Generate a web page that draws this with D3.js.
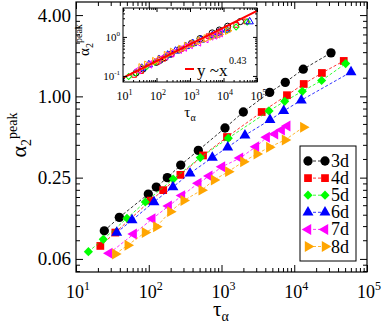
<!DOCTYPE html>
<html>
<head>
<meta charset="utf-8">
<script src="https://cdn.jsdelivr.net/npm/d3@7"></script>
<style>
body { margin: 0; background: #fff; }
svg { display: block; font-family: "Liberation Serif", "Times New Roman", serif; }
</style>
</head>
<body>
<script>
// series: tau_alpha vs alpha_2 peak
var dims = ["3d", "4d", "5d", "6d", "7d", "8d"];
var colors = ["#000000", "#ff0000", "#00ff00", "#0000ff", "#ff00ff", "#ffa500"];
var shapes = ["circle", "square", "diamond", "up", "left", "right"];

var tau3 = [24.5, 39.4, 98.6, 127, 180, 275, 480, 1117, 1995, 4600, 7530, 13300, 32000];
var alpha3 = [0.101, 0.127, 0.189, 0.213, 0.25, 0.31, 0.398, 0.583, 0.766, 1.07, 1.27, 1.59, 2.10];
var tau4 = [21.6, 34.7, 106, 158, 272, 557, 1190, 3570, 7940, 13500, 24000, 47900];
var alpha4 = [0.078, 0.098, 0.169, 0.202, 0.262, 0.365, 0.50, 0.766, 1.02, 1.235, 1.49, 1.83];
var tau5 = [14.8, 23.7, 50.2, 89.7, 217, 511, 1240, 4500, 7390, 12900, 23800, 50900];
var alpha5 = [0.0707, 0.0873, 0.125, 0.165, 0.244, 0.352, 0.49, 0.78, 0.919, 1.09, 1.31, 1.75];
var tau6 = [36.3, 58.9, 118, 215, 369, 748, 1217, 2100, 4640, 7160, 12500, 60300];
var alpha6 = [0.098, 0.121, 0.165, 0.213, 0.269, 0.352, 0.42, 0.515, 0.669, 0.78, 0.936, 1.515];
var tau7 = [28.7, 62.1, 112, 188, 286, 480, 680, 1016, 1796, 2980, 4180, 5440, 6720, 8020];
var alpha7 = [0.0688, 0.0955, 0.124, 0.154, 0.184, 0.227, 0.257, 0.301, 0.349, 0.424, 0.497, 0.526, 0.563, 0.603];
var tau8 = [34.7, 51.4, 88.8, 127, 198, 302, 534, 789, 1240, 1995, 3050, 4540, 7460, 13300];
var alpha8 = [0.068, 0.079, 0.098, 0.108, 0.14, 0.169, 0.202, 0.240, 0.277, 0.328, 0.374, 0.42, 0.475, 0.59];

// inset: alpha_2 peak rescaled per dimension, plus the y ~ x^0.43 guide
var insetFactor = [1.18, 1.36, 1.37, 1.62, 2.07, 2.44];
var fitX = [10, 100000];
var fitY = [0.089, 4.67];

// ticks
var xMajor = [10, 100, 1000, 10000, 100000];
var xExp = ["1", "2", "3", "4", "5"];
var yMajor = [4, 1, 0.25, 0.0625];
var yLabels = ["4.00", "1.00", "0.25", "0.06"];
var iyMajor = [1, 0.1];
var iyExp = ["0", "-1"];

var tauSets = [tau3, tau4, tau5, tau6, tau7, tau8];
var alphaSets = [alpha3, alpha4, alpha5, alpha6, alpha7, alpha8];

var width = 382, height = 324;

var svg = d3.select("body").append("svg")
    .attr("width", width)
    .attr("height", height);

svg.append("rect").attr("width", width).attr("height", height).attr("fill", "#fff");

var x = d3.scaleLog().domain([10, 100000]).range([76, 367]);
var y = d3.scaleLog().domain([0.05, 5]).range([272, 2]);

function symbolPath(shape, size) {
    if (shape == "circle") return d3.symbol(d3.symbolCircle, size)();
    if (shape == "square" || shape == "diamond") return d3.symbol(d3.symbolSquare, size)();
    return d3.symbol(d3.symbolTriangle, size)();
}
function symbolRot(shape) {
    if (shape == "diamond") return 45;
    if (shape == "left") return -90;
    if (shape == "right") return 90;
    return 0;
}
var mainSize = {circle: 68, square: 60, diamond: 42, up: 52, left: 52, right: 52};
var insetSize = {circle: 30, square: 22, diamond: 18, up: 24, left: 24, right: 24};

// log minor ticks (2..9 per decade)
function decadeMinors(lo, hi) {
    var out = [];
    for (var e = Math.floor(Math.log10(lo)); e <= Math.ceil(Math.log10(hi)); e++) {
        for (var k = 2; k <= 9; k++) {
            var v = k * Math.pow(10, e);
            if (v > lo && v < hi) out.push(v);
        }
    }
    return out;
}
// minor ticks between majors spaced by 4x (linear in value, 7 per interval)
var yMinor = [];
[0.015625, 0.0625, 0.25, 1, 4].forEach(function(m) {
    var step = (4 * m - m) / 8;
    for (var k = 1; k <= 7; k++) {
        var v = m + k * step;
        if (v > 0.05 && v < 5) yMinor.push(v);
    }
});

function drawTicks(g, scale, values, orient, pos, len) {
    var axis;
    if (orient == "bottom") axis = d3.axisBottom(scale);
    else if (orient == "top") axis = d3.axisTop(scale);
    else if (orient == "left") axis = d3.axisLeft(scale);
    else axis = d3.axisRight(scale);
    axis.tickValues(values).tickSize(-len).tickFormat("");
    var t = (orient == "bottom" || orient == "top") ? "translate(0," + pos + ")" : "translate(" + pos + ",0)";
    var a = g.append("g").attr("transform", t).call(axis);
    a.select(".domain").remove();
    a.selectAll("line").attr("stroke", "#000").attr("stroke-width", 1);
}

// ---- main plot ----
var main = svg.append("g");

drawTicks(main, x, xMajor, "bottom", 272, 7);
drawTicks(main, x, decadeMinors(10, 100000), "bottom", 272, 4);
drawTicks(main, x, xMajor, "top", 2, 7);
drawTicks(main, x, decadeMinors(10, 100000), "top", 2, 4);
drawTicks(main, y, yMajor, "left", 76, 7);
drawTicks(main, y, yMinor, "left", 76, 4);
drawTicks(main, y, yMajor, "right", 367, 7);
drawTicks(main, y, yMinor, "right", 367, 4);

tauSets.forEach(function(taus, i) {
    var pts = taus.map(function(t, j) { return [t, alphaSets[i][j]]; });
    main.append("path")
        .datum(pts)
        .attr("fill", "none")
        .attr("stroke", colors[i])
        .attr("stroke-width", 0.8)
        .attr("stroke-dasharray", "3,2")
        .attr("d", d3.line().x(function(d) { return x(d[0]); }).y(function(d) { return y(d[1]); }));
    main.selectAll(".m" + i)
        .data(pts)
        .enter().append("path")
        .attr("class", "m" + i)
        .attr("d", symbolPath(shapes[i], mainSize[shapes[i]]))
        .attr("fill", colors[i])
        .attr("transform", function(d) {
            return "translate(" + x(d[0]) + "," + y(d[1]) + ") rotate(" + symbolRot(shapes[i]) + ")";
        });
});

main.append("rect")
    .attr("x", 76).attr("y", 2).attr("width", 291).attr("height", 270)
    .attr("fill", "none").attr("stroke", "#000").attr("stroke-width", 1.2);

// x tick labels
var xl = main.selectAll(".xl").data(xMajor).enter().append("text")
    .attr("x", function(d) { return x(d) + 2; })
    .attr("y", 298)
    .attr("text-anchor", "middle")
    .style("font-size", "18px");
xl.append("tspan").text("10");
xl.append("tspan").attr("dy", -8).style("font-size", "12px").text(function(d, i) { return xExp[i]; });

// y tick labels
main.selectAll(".yl").data(yMajor).enter().append("text")
    .attr("x", 71)
    .attr("y", function(d) { return y(d) + 6.5; })
    .attr("text-anchor", "end")
    .style("font-size", "19px")
    .text(function(d, i) { return yLabels[i]; });

// axis titles
var xt = main.append("text").attr("x", 221).attr("y", 316).attr("text-anchor", "middle");
xt.append("tspan").style("font-size", "21px").text("τ");
xt.append("tspan").attr("dy", 5).style("font-size", "14px").text("α");

var yt = main.append("text").attr("transform", "translate(26,135) rotate(-90)").attr("text-anchor", "middle");
yt.append("tspan").style("font-size", "22px").text("α");
yt.append("tspan").attr("dy", 5).style("font-size", "14px").text("2");
yt.append("tspan").attr("dy", -14).style("font-size", "14px").text("peak");

// legend
var leg = main.append("g");
leg.append("rect")
    .attr("x", 300).attr("y", 146).attr("width", 56).attr("height", 115)
    .attr("fill", "#fff").attr("stroke", "#000").attr("stroke-width", 1);
dims.forEach(function(name, i) {
    var ly = 161 + i * 17.1;
    leg.append("line")
        .attr("x1", 308).attr("x2", 325).attr("y1", ly).attr("y2", ly)
        .attr("stroke", colors[i]).attr("stroke-width", 0.8).attr("stroke-dasharray", "3,2");
    [308, 325].forEach(function(sx) {
        leg.append("path")
            .attr("d", symbolPath(shapes[i], mainSize[shapes[i]]))
            .attr("fill", colors[i])
            .attr("transform", "translate(" + sx + "," + ly + ") rotate(" + symbolRot(shapes[i]) + ")");
    });
    leg.append("text")
        .attr("x", 331).attr("y", ly + 6)
        .style("font-size", "18px")
        .text(name);
});

// ---- inset ----
var ix = d3.scaleLog().domain([10, 100000]).range([123, 257]);
var iy = d3.scaleLog().domain([0.07, 5.5]).range([82, 8]);
var inset = svg.append("g");

inset.append("rect")
    .attr("x", 123).attr("y", 8).attr("width", 134).attr("height", 74)
    .attr("fill", "#fff");

svg.append("clipPath").attr("id", "iclip")
    .append("rect").attr("x", 123).attr("y", 8).attr("width", 134).attr("height", 74);

var ic = inset.append("g").attr("clip-path", "url(#iclip)");
tauSets.forEach(function(taus, i) {
    ic.selectAll(".i" + i)
        .data(taus.map(function(t, j) { return [t, alphaSets[i][j] * insetFactor[i]]; }))
        .enter().append("path")
        .attr("d", symbolPath(shapes[i], insetSize[shapes[i]]))
        .attr("fill", "none")
        .attr("stroke", colors[i])
        .attr("stroke-width", 1)
        .attr("transform", function(d) {
            return "translate(" + ix(d[0]) + "," + iy(d[1]) + ") rotate(" + symbolRot(shapes[i]) + ")";
        });
});
ic.append("line")
    .attr("x1", ix(fitX[0])).attr("y1", iy(fitY[0]))
    .attr("x2", ix(fitX[1])).attr("y2", iy(fitY[1]))
    .attr("stroke", "#ff0000").attr("stroke-width", 2);

drawTicks(inset, ix, xMajor, "bottom", 82, 4);
drawTicks(inset, ix, decadeMinors(10, 100000), "bottom", 82, 2);
drawTicks(inset, ix, xMajor, "top", 8, 4);
drawTicks(inset, ix, decadeMinors(10, 100000), "top", 8, 2);
drawTicks(inset, iy, iyMajor, "left", 123, 4);
drawTicks(inset, iy, decadeMinors(0.07, 5.5), "left", 123, 2);
drawTicks(inset, iy, iyMajor, "right", 257, 4);
drawTicks(inset, iy, decadeMinors(0.07, 5.5), "right", 257, 2);

inset.append("rect")
    .attr("x", 123).attr("y", 8).attr("width", 134).attr("height", 74)
    .attr("fill", "none").attr("stroke", "#000").attr("stroke-width", 1);

var ixl = inset.selectAll(".ixl").data(xMajor).enter().append("text")
    .attr("x", function(d) { return ix(d) + 1.5; })
    .attr("y", 100)
    .attr("text-anchor", "middle")
    .style("font-size", "12px");
ixl.append("tspan").text("10");
ixl.append("tspan").attr("dy", -5).style("font-size", "8px").text(function(d, i) { return xExp[i]; });

var iyl = inset.selectAll(".iyl").data(iyMajor).enter().append("text")
    .attr("x", 120)
    .attr("y", function(d) { return iy(d) + 4; })
    .attr("text-anchor", "end")
    .style("font-size", "11px");
iyl.append("tspan").text("10");
iyl.append("tspan").attr("dy", -5).style("font-size", "7px").text(function(d, i) { return iyExp[i]; });

var ixt = inset.append("text").attr("x", 190).attr("y", 117).attr("text-anchor", "middle");
ixt.append("tspan").style("font-size", "15px").text("τ");
ixt.append("tspan").attr("dy", 4).style("font-size", "10px").text("α");

var iyt = inset.append("text").attr("transform", "translate(89,40) rotate(-90)").attr("text-anchor", "middle");
iyt.append("tspan").style("font-size", "15px").text("α");
iyt.append("tspan").attr("dy", 4).style("font-size", "10px").text("2");
iyt.append("tspan").attr("dy", -11).style("font-size", "10px").text("peak");

// fit legend inside inset
inset.append("line")
    .attr("x1", 185).attr("x2", 194).attr("y1", 69).attr("y2", 69)
    .attr("stroke", "#ff0000").attr("stroke-width", 2);
inset.append("text")
    .attr("x", 197).attr("y", 76)
    .style("font-size", "17px")
    .text("y ~x");
inset.append("text")
    .attr("x", 229).attr("y", 64)
    .style("font-size", "10px")
    .text("0.43");
</script>
</body>
</html>
